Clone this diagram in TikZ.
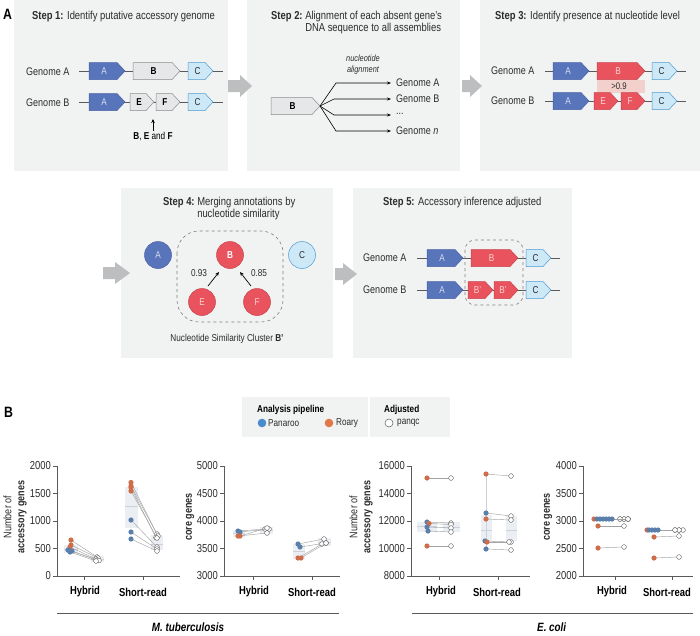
\documentclass[tikz,border=0pt]{standalone}
\usepackage{fontspec}
\setmainfont{Liberation Sans}[FakeStretch=0.82]
\usetikzlibrary{arrows.meta}
\definecolor{panelgray}{HTML}{F1F2F2}
\definecolor{arrowgray}{HTML}{BDBEC0}
\definecolor{txt}{HTML}{2B2B2B}
\definecolor{blueA}{HTML}{5874BA}
\definecolor{blueAd}{HTML}{4862A6}
\definecolor{grayB}{HTML}{E6E7E8}
\definecolor{grayBd}{HTML}{8A8C8E}
\definecolor{cyanC}{HTML}{CDE8F7}
\definecolor{cyanCd}{HTML}{4F9BCF}
\definecolor{redB}{HTML}{E8535D}
\definecolor{redBd}{HTML}{C9434D}
\definecolor{pinkS}{HTML}{F2D0CC}
\definecolor{lblA}{HTML}{D5DDF2}
\definecolor{lblR}{HTML}{FBD3D3}
\definecolor{panblue}{HTML}{5A7FAB}
\definecolor{roaorange}{HTML}{CF6D4A}
\definecolor{legblue}{HTML}{4A8BCB}
\definecolor{legorange}{HTML}{E2784A}
\definecolor{axisgray}{HTML}{5A5A5A}
\definecolor{pairgray}{HTML}{A3A3A3}
\definecolor{iqr}{HTML}{EBEEF3}
\definecolor{med}{HTML}{CDD2DA}
\definecolor{dashgray}{HTML}{7F7F7F}

\newcommand{\genebox}[7]{%
  \path[#5] (#2,#4-8.5) -- ({#3-8},#4-8.5) -- (#3,#4) -- ({#3-8},#4+8.5) -- (#2,#4+8.5) -- cycle;
  \node[gtxt,#6] (#1) at ({(#2+#3-8)/2+1},#4) {#7};}
\newcommand{\dpair}[5]{%
  \draw[pairline] (#1,#2) -- (#3,#4);
  \fill[#5] (#1,#2) circle (2.6pt);
  \draw[adjdot] (#3,#4) circle (2.4pt);}
\newcommand{\iqrbox}[5]{%
  \fill[iqr] (#1,#2) rectangle (#3,#4);
  \draw[medline] (#1,#5) -- (#3,#5);}

\begin{document}
\begin{tikzpicture}[x=1pt,y=-1pt,
  panel/.style={fill=panelgray},
  steparrow/.style={fill=arrowgray},
  ttl/.style={anchor=base west, inner sep=0, text=txt, font=\fontsize{11.5}{12}\selectfont},
  glab/.style={anchor=west, inner sep=0, text=txt, font=\fontsize{11}{13}\selectfont},
  backbone/.style={draw=axisgray, line width=0.6pt},
  gA/.style={fill=blueA, draw=blueAd, line width=0.5pt},
  gAt/.style={text=lblA},
  gG/.style={fill=grayB, draw=grayBd, line width=0.5pt},
  gGt/.style={text=black, font=\fontsize{10}{12}\selectfont\bfseries},
  gC/.style={fill=cyanC, draw=cyanCd, line width=0.5pt},
  gCt/.style={text=txt},
  gR/.style={fill=redB, draw=redBd, line width=0.5pt},
  gRt/.style={text=lblR},
  gtxt/.style={inner sep=0, font=\fontsize{10}{12}\selectfont},
  circ/.style={circle, minimum size=27pt, inner sep=0, line width=0.5pt, font=\fontsize{10}{12}\selectfont},
  sarrow/.style={-{Stealth[length=4pt,width=3.5pt]}, line width=0.7pt, draw=black},
  fanline/.style={-{Stealth[length=4pt,width=3pt]}, line width=0.6pt, draw=black},
  clusterbox/.style={draw=dashgray, dashed, line width=0.6pt},
  small/.style={inner sep=0, text=txt, font=\fontsize{10}{12}\selectfont},
  plab/.style={inner sep=0, font=\fontsize{15}{15}\selectfont\bfseries},
  axis/.style={draw=axisgray, line width=0.6pt},
  ticklab/.style={anchor=east, inner sep=0, text=txt, font=\fontsize{11.5}{12}\selectfont},
  xlab/.style={inner sep=0, text=black, font=\fontsize{11.5}{12}\selectfont\bfseries},
  ylab/.style={rotate=90, align=center, inner sep=0, text=txt, font=\fontsize{11}{13}\selectfont},
  pairline/.style={draw=pairgray, line width=0.45pt},
  adjdot/.style={draw=axisgray, fill=white, line width=0.4pt},
  medline/.style={draw=med, line width=0.6pt},
  legtxt/.style={anchor=west, inner sep=0, text=txt, font=\fontsize{10}{12}\selectfont},
  species/.style={inner sep=0, text=black, font=\fontsize{12}{12}\selectfont\bfseries\itshape}
]
\useasboundingbox (0,0) rectangle (700,635);

% ---------------- panel A boxes ----------------
\fill[panel] (14,0) rectangle (228,171);
\fill[panel] (247,0) rectangle (460,171);
\fill[panel] (480,0) rectangle (700,171);
\fill[panel] (121,188) rectangle (333,358);
\fill[panel] (353,188) rectangle (572,358);

% step arrows
\path[steparrow] (228,80) -- (240,80) -- (240,75) -- (252,86) -- (240,97) -- (240,92) -- (228,92) -- cycle;
\path[steparrow] (462,80) -- (470,80) -- (470,75) -- (482,86) -- (470,97) -- (470,92) -- (462,92) -- cycle;
\path[steparrow] (103,267) -- (115,267) -- (115,262) -- (130,273) -- (115,284) -- (115,279) -- (103,279) -- cycle;
\path[steparrow] (335,268) -- (343,268) -- (343,263) -- (357,274) -- (343,285) -- (343,280) -- (335,280) -- cycle;

\node[plab, anchor=west] (labA) at (3,14) {A};

% ---------------- Step 1 ----------------
\node[ttl] (t1) at (32,19) {\textbf{Step 1:} Identify putative accessory genome};
\node[glab] (s1ga) at (26,72) {Genome A};
\node[glab] (s1gb) at (26,103) {Genome B};
\draw[backbone] (79,71) -- (223,71);
\draw[backbone] (79,102) -- (223,102);
\genebox{s1a1}{89}{125}{71}{gA}{gAt}{A}
\genebox{s1b1}{133}{180}{71}{gG}{gGt}{B}
\genebox{s1c1}{188}{213}{71}{gC}{gCt}{C}
\genebox{s1a2}{89}{125}{102}{gA}{gAt}{A}
\genebox{s1e2}{130}{154}{102}{gG}{gGt}{E}
\genebox{s1f2}{156}{180}{102}{gG}{gGt}{F}
\genebox{s1c2}{188}{213}{102}{gC}{gCt}{C}
\node[small, text=black] (bef) at (153,137) {\textbf{B}, \textbf{E} and \textbf{F}};
\coordinate (befTip) at (153,119);
\draw[sarrow, line width=0.6pt] (bef.north) ++(0,-2) -- (befTip);

% ---------------- Step 2 ----------------
\node[ttl] (t2) at (271,19) {\begin{tabular}[t]{@{}l@{\ }l@{}}\textbf{Step 2:} & Alignment of each absent gene's\\ & DNA sequence to all assemblies\end{tabular}};
\node[small, align=center, font=\fontsize{9}{11}\selectfont\itshape] (nalign) at (363,65) {nucleotide\\alignment};
\genebox{s2b}{271}{320}{106}{gG}{gGt}{B}
\coordinate (fan0) at (320,106);
\node[glab] (g2a) at (396,83) {Genome A};
\node[glab] (g2b) at (396,99) {Genome B};
\node[glab] (g2d) at (396,114) {...};
\node[glab] (g2n) at (396,131) {Genome \textit{n}};
\draw[fanline] (fan0) -- (336,83) -- ([xshift=-5pt]g2a.west);
\draw[fanline] (fan0) -- (334,99) -- ([xshift=-5pt]g2b.west|-0,99);
\draw[fanline] (fan0) -- (334,115) -- ([xshift=-5pt]g2d.west|-0,115);
\draw[fanline] (fan0) -- (336,131) -- ([xshift=-5pt]g2n.west);

% ---------------- Step 3 ----------------
\node[ttl] (t3) at (495,19) {\textbf{Step 3:} Identify presence at nucleotide level};
\node[glab] (s3ga) at (491,71) {Genome A};
\node[glab] (s3gb) at (491,101) {Genome B};
\fill[pinkS] (597,79.5) rectangle (645,92.5);
\draw[backbone] (545,71) -- (686,71);
\draw[backbone] (545,101) -- (686,101);
\genebox{s3a1}{553}{589}{71}{gA}{gAt}{A}
\genebox{s3b1}{597}{645}{71}{gR}{gRt}{B}
\genebox{s3c1}{652}{677}{71}{gC}{gCt}{C}
\genebox{s3a2}{553}{589}{101}{gA}{gAt}{A}
\genebox{s3e2}{594}{618}{101}{gR}{gRt}{E}
\genebox{s3f2}{621}{645}{101}{gR}{gRt}{F}
\genebox{s3c2}{652}{677}{101}{gC}{gCt}{C}
\node[small, font=\fontsize{9.5}{11}\selectfont] (gt09) at (619,86) {>0.9};

% ---------------- Step 4 ----------------
\node[ttl] (t4) at (163,205) {\begin{tabular}[t]{@{}l@{\ }l@{}}\textbf{Step 4:} & Merging annotations by\\ & nucleotide similarity\end{tabular}};
\draw[clusterbox, rounded corners=22pt] (177,231) rectangle (283,322);
\node[circ, fill=blueA, draw=blueAd, text=lblA] (c4A) at (158,255) {A};
\node[circ, fill=redB, draw=redBd, text=white, font=\fontsize{10}{12}\selectfont\bfseries] (c4B) at (230,255) {B};
\node[circ, fill=cyanC, draw=cyanCd, text=txt] (c4C) at (302,255) {C};
\node[circ, fill=redB, draw=redBd, text=lblR] (c4E) at (202,302) {E};
\node[circ, fill=redB, draw=redBd, text=lblR] (c4F) at (257,302) {F};
\coordinate (eTail) at (208,286);
\coordinate (eHead) at (219,272);
\coordinate (fTail) at (251,286);
\coordinate (fHead) at (240,272);
\draw[sarrow] (eTail) -- (eHead);
\draw[sarrow] (fTail) -- (fHead);
\node[small] (v93) at (199,273) {0.93};
\node[small] (v85) at (259,273) {0.85};
\node[small] (clus) at (227,339) {Nucleotide Similarity Cluster \textbf{B'}};

% ---------------- Step 5 ----------------
\node[ttl] (t5) at (383,205) {\textbf{Step 5:} Accessory inference adjusted};
\node[glab] (s5ga) at (363,258) {Genome A};
\node[glab] (s5gb) at (363,290) {Genome B};
\draw[backbone] (417,258) -- (560,258);
\draw[backbone] (417,290) -- (560,290);
\genebox{s5a1}{427}{463}{258}{gA}{gAt}{A}
\genebox{s5b1}{471}{518}{258}{gR}{gRt}{B}
\genebox{s5c1}{526}{551}{258}{gC}{gCt}{C}
\genebox{s5a2}{427}{463}{290}{gA}{gAt}{A}
\genebox{s5p1}{468}{493}{290}{gR}{gRt}{B'}
\genebox{s5p2}{494}{518}{290}{gR}{gRt}{B'}
\genebox{s5c2}{526}{551}{290}{gC}{gCt}{C}
\draw[clusterbox, rounded corners=10pt] (465,240) rectangle (523,305);

% ---------------- panel B ----------------
\node[plab, anchor=west] (labB) at (4,412) {B};
\fill[panel] (242,397) rectangle (450,437);
\draw[draw=white, line width=1.2pt] (369,397) -- (369,437);
\node[legtxt, font=\fontsize{10}{12}\selectfont\bfseries, text=black] (lgAP) at (257,410) {Analysis pipeline};
\fill[legblue] (262,423) circle (4.3pt);
\node[legtxt] (lgP) at (268,423) {Panaroo};
\fill[legorange] (329,423) circle (4.3pt);
\node[legtxt] (lgR) at (336,423) {Roary};
\node[legtxt, font=\fontsize{10}{12}\selectfont\bfseries, text=black] (lgAd) at (384,410) {Adjusted};
\draw[draw=axisgray, fill=white, line width=0.5pt] (389,423) circle (4pt);
\node[legtxt] (lgQ) at (397,423) {panqc};

% ---- plot 1 ----
\iqrbox{64}{545}{78}{553}{549}
\iqrbox{91}{556}{104}{562}{559}
\iqrbox{125}{487}{138}{528}{506}
\iqrbox{151}{535}{163}{550}{544}
\draw[axis] (57,466) -- (57,576) -- (180,576);
\foreach \yy/\lab in {466/2000,493.5/1500,521/1000,548.5/500,576/0}{
  \draw[axis] (53,\yy) -- (57,\yy);
  \node[ticklab] at (51,\yy) {\lab};}
\draw[axis] (84,576) -- (84,580);
\draw[axis] (143,576) -- (143,580);
\node[xlab] (p1h) at (85,592) {Hybrid};
\node[xlab] (p1s) at (143,592) {Short-read};
\node[ylab] (p1y) at (15,517) {Number of\\\textbf{accessory genes}};
\dpair{71}{540}{97}{557}{roaorange}
\dpair{71}{545}{98}{558}{roaorange}
\dpair{70}{547}{96}{559}{roaorange}
\dpair{68}{550}{97}{560}{panblue}
\dpair{72}{551}{99}{560.5}{panblue}
\dpair{70}{552}{96}{561}{panblue}
\dpair{131}{482.5}{157}{534}{roaorange}
\dpair{131}{486}{158}{536}{roaorange}
\dpair{131}{487.5}{156}{537.5}{roaorange}
\dpair{131}{491}{157}{538}{roaorange}
\dpair{131}{520}{157}{547}{panblue}
\dpair{131}{532}{157}{549}{panblue}
\dpair{131}{539}{157}{551}{panblue}

% ---- plot 2 ----
\iqrbox{233}{530}{245}{537}{533}
\iqrbox{260}{527}{273}{534}{530}
\iqrbox{293}{544}{305}{559}{551}
\iqrbox{318}{538}{331}{546}{542}
\draw[axis] (224,466) -- (224,576) -- (340,576);
\foreach \yy/\lab in {466/5000,493.5/4500,521/4000,548.5/3500,576/3000}{
  \draw[axis] (220,\yy) -- (224,\yy);
  \node[ticklab] at (218,\yy) {\lab};}
\draw[axis] (253,576) -- (253,580);
\draw[axis] (312,576) -- (312,580);
\node[xlab] (p2h) at (254,592) {Hybrid};
\node[xlab] (p2s) at (312,592) {Short-read};
\node[ylab] (p2y) at (190,517) {\textbf{core genes}};
\dpair{238}{531}{265}{529}{panblue}
\dpair{240}{532}{269}{529}{panblue}
\dpair{238}{536}{267}{533}{roaorange}
\dpair{240}{536}{267}{528}{roaorange}
\dpair{298}{544}{324}{539}{panblue}
\dpair{300}{547}{326}{543}{panblue}
\dpair{298}{558}{322}{544}{roaorange}
\dpair{301}{558}{326}{543}{roaorange}

% ---- plot 3 ----
\iqrbox{417}{522}{437}{532}{526}
\iqrbox{443}{522}{460}{532}{527}
\iqrbox{481}{515}{492}{541}{530}
\iqrbox{506}{516}{517}{541}{530}
\draw[medline] (486,474) -- (486,549);
\draw[axis] (411,466) -- (411,576) -- (530,576);
\foreach \yy/\lab in {466/16000,493.5/14000,521/12000,548.5/10000,576/8000}{
  \draw[axis] (407,\yy) -- (411,\yy);
  \node[ticklab] at (405,\yy) {\lab};}
\draw[axis] (439,576) -- (439,580);
\draw[axis] (498,576) -- (498,580);
\node[xlab] (p3h) at (441,592) {Hybrid};
\node[xlab] (p3s) at (497,592) {Short-read};
\node[ylab] (p3y) at (361,517) {Number of\\\textbf{accessory genes}};
\dpair{427}{478}{451}{478}{roaorange}
\dpair{427}{522}{451}{523}{panblue}
\dpair{429}{523.5}{451}{524.5}{roaorange}
\dpair{427}{527}{451}{528}{panblue}
\dpair{428}{531}{451}{532}{panblue}
\dpair{427}{546}{451}{546}{roaorange}
\dpair{486}{474}{511}{476}{roaorange}
\dpair{486}{513}{511}{516}{panblue}
\dpair{486}{519}{511}{520}{roaorange}
\dpair{485}{541}{511}{542}{panblue}
\dpair{487}{542}{509}{542}{roaorange}
\dpair{486}{549}{511}{550}{panblue}

% ---- plot 4 ----
\draw[axis] (583,466) -- (583,576) -- (693,576);
\foreach \yy/\lab in {466/4000,493.5/3500,521/3000,548.5/2500,576/2000}{
  \draw[axis] (579,\yy) -- (583,\yy);
  \node[ticklab] at (577,\yy) {\lab};}
\draw[axis] (615,576) -- (615,580);
\draw[axis] (672,576) -- (672,580);
\node[xlab] (p4h) at (612,592) {Hybrid};
\node[xlab] (p4s) at (667,592) {Short-read};
\node[ylab] (p4y) at (548,517) {\textbf{core genes}};
\dpair{594}{519}{620}{519}{roaorange}
\dpair{597}{519}{624}{519}{panblue}
\dpair{600}{519}{628}{519}{panblue}
\dpair{603}{519}{628}{519}{panblue}
\dpair{606}{519}{624}{519}{panblue}
\dpair{609}{519}{620}{519}{panblue}
\dpair{612}{519}{628}{519}{panblue}
\dpair{598}{526}{624}{526}{roaorange}
\dpair{598}{548}{624}{547}{roaorange}
\dpair{647}{530}{675}{530}{roaorange}
\dpair{649}{530}{679}{530}{panblue}
\dpair{652}{530}{683}{530}{panblue}
\dpair{655}{530}{679}{530}{panblue}
\dpair{658}{530}{675}{530}{panblue}
\dpair{654}{537}{679}{536}{roaorange}
\dpair{654}{558}{679}{557}{roaorange}

% species brackets
\draw[draw=axisgray, line width=0.8pt] (57,613) -- (339,613);
\draw[draw=axisgray, line width=0.8pt] (412,613) -- (693,613);
\node[species] (mtb) at (188,627) {M. tuberculosis};
\node[species, anchor=west] (eco) at (537,627) {E. coli};
\end{tikzpicture}
\end{document}
